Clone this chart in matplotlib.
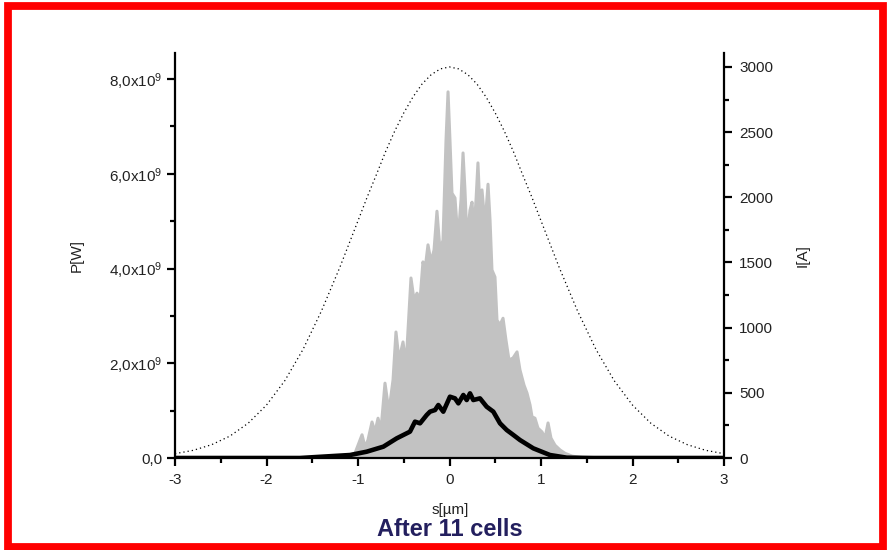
import matplotlib
matplotlib.use("Agg")
import matplotlib.pyplot as plt
from matplotlib.patches import Rectangle
from matplotlib.ticker import MultipleLocator

plt.rcParams['font.family'] = ['Liberation Sans', 'DejaVu Sans']
plt.rcParams['mathtext.fontset'] = 'custom'
plt.rcParams['mathtext.rm'] = 'Liberation Sans'
plt.rcParams['mathtext.it'] = 'Liberation Sans:italic'

# ---------------- data ----------------
# current profile I[A] (dotted, right axis)
s_cur = [-3.0, -2.8, -2.6, -2.4, -2.2, -2.0, -1.8, -1.6, -1.4, -1.2, -1.0, -0.9, -0.8, -0.7,
         -0.6, -0.5, -0.4, -0.3, -0.2, -0.1, 0.0, 0.1, 0.2, 0.3, 0.4, 0.5, 0.6, 0.7, 0.8, 0.9,
         1.0, 1.2, 1.4, 1.6, 1.8, 2.0, 2.2, 2.4, 2.6, 2.8, 3.0]
I_cur = [33, 59, 102, 168, 267, 406, 593, 834, 1127, 1460, 1820, 2001, 2172, 2348,
         2506, 2647, 2769, 2869, 2941, 2985, 3000, 2985, 2941, 2869, 2769, 2647, 2506, 2348, 2172, 2001,
         1820, 1460, 1127, 834, 593, 406, 267, 168, 102, 59, 33]

# envelope of the individual power traces (grey, left axis), P in 1e9 W
s_env = [-1.306, -1.142, -1.033, -0.956, -0.923, -0.891, -0.847, -0.814, -0.781, -0.749,
         -0.705, -0.672, -0.650, -0.617, -0.585, -0.552, -0.508, -0.475, -0.421, -0.388,
         -0.355, -0.322, -0.290, -0.268, -0.235, -0.202, -0.169, -0.137, -0.104, -0.071,
         -0.038, -0.016, 0.005, 0.027, 0.060, 0.093, 0.126, 0.148, 0.169, 0.191,
         0.224, 0.246, 0.268, 0.290, 0.311, 0.333, 0.355, 0.388, 0.421, 0.443,
         0.464, 0.497, 0.519, 0.552, 0.585, 0.617, 0.650, 0.694, 0.738, 0.770,
         0.814, 0.847, 0.880, 0.902, 0.934, 0.967, 1.011, 1.044, 1.077, 1.109,
         1.153, 1.208, 1.262, 1.339, 1.481]
P_env = [0.0, 0.02, 0.10, 0.49, 0.23, 0.38, 0.76, 0.55, 0.84, 0.59,
         1.58, 1.12, 1.16, 1.65, 2.66, 2.07, 2.45, 1.96, 3.80, 3.34,
         3.48, 3.34, 4.14, 3.97, 4.50, 4.14, 4.39, 5.21, 4.39, 4.60,
         6.71, 7.73, 6.71, 5.59, 5.49, 4.60, 5.45, 6.44, 5.66, 4.60,
         5.23, 5.40, 4.81, 5.45, 6.23, 5.23, 5.66, 4.92, 5.78, 5.02,
         3.97, 3.82, 2.91, 2.81, 2.95, 2.49, 2.07, 2.11, 2.24, 1.86,
         1.54, 1.37, 1.12, 0.87, 0.84, 0.63, 0.55, 0.42, 0.74, 0.42,
         0.27, 0.17, 0.10, 0.04, 0.0]

# average power (black, left axis), P in 1e9 W
s_avg = [-3.0, -1.634, -1.087, -0.905, -0.723, -0.577, -0.468, -0.432, -0.377, -0.322,
         -0.249, -0.213, -0.158, -0.122, -0.068, 0.005, 0.060, 0.097, 0.151, 0.188,
         0.224, 0.260, 0.333, 0.406, 0.479, 0.552, 0.625, 0.698, 0.770, 0.916,
         1.098, 1.281, 1.572, 3.0]
P_avg = [0.0, 0.0, 0.063, 0.133, 0.239, 0.415, 0.521, 0.556, 0.767, 0.732,
         0.908, 0.978, 1.013, 1.119, 0.978, 1.294, 1.259, 1.154, 1.330, 1.224,
         1.365, 1.224, 1.259, 1.083, 0.978, 0.732, 0.591, 0.486, 0.380, 0.204,
         0.063, 0.007, 0.0, 0.0]

p_ticks = [0, 2e9, 4e9, 6e9, 8e9]
p_labels = ['0,0', r'2,0x10$^{9}$', r'4,0x10$^{9}$', r'6,0x10$^{9}$', r'8,0x10$^{9}$']
i_ticks = [0, 500, 1000, 1500, 2000, 2500, 3000]
s_ticks = [-3, -2, -1, 0, 1, 2, 3]

# ---------------- figure ----------------
fig = plt.figure(figsize=(8.88, 5.5), dpi=100)
ax = fig.add_axes([175/888, 1 - 458/550, (724 - 175)/888, (458 - 53)/550])
ax2 = ax.twinx()

grey = '#c2c2c2'
P_env_w = [p * 1e9 for p in P_env]
ax.fill_between(s_env, 0, P_env_w, color=grey, lw=0, zorder=1)
ax.plot(s_env, P_env_w, color=grey, lw=2.2, zorder=1.5, solid_joinstyle='round')
ax.plot(s_avg, [p * 1e9 for p in P_avg], color='black', lw=3.3, zorder=3,
        solid_joinstyle='round')

ax2.plot(s_cur, I_cur, color='black', lw=0.9, linestyle=(0, (1, 2.4)))

ax.set_xlim(-3, 3)
ax.set_ylim(0, 8.55e9)
ax2.set_ylim(0, 3107)

for a in (ax, ax2):
    a.spines['top'].set_visible(False)
    for sp in a.spines.values():
        sp.set_linewidth(1.6)
    a.tick_params(which='major', direction='out', length=6, width=1.6, labelsize=11,
                  colors='black', labelcolor='#222222')
    a.tick_params(which='minor', direction='out', length=3.5, width=1.6)
ax.spines['right'].set_visible(False)
ax2.spines['left'].set_visible(False)
ax2.spines['bottom'].set_visible(False)

ax.set_xticks(s_ticks)
ax.set_xticklabels([str(v) for v in s_ticks])
ax.xaxis.set_minor_locator(MultipleLocator(0.5))
ax.set_yticks(p_ticks)
ax.set_yticklabels(p_labels)
ax.yaxis.set_minor_locator(MultipleLocator(1e9))
ax2.set_yticks(i_ticks)
ax2.set_yticklabels([str(v) for v in i_ticks])
ax2.yaxis.set_minor_locator(MultipleLocator(250))
ax.tick_params(axis='x', pad=5)
ax.tick_params(axis='y', pad=3)
ax2.tick_params(axis='y', pad=5)

ax.set_ylabel('P[W]', fontsize=11, labelpad=18, color='#222222')
ax2.set_ylabel('I[A]', fontsize=11, labelpad=16, color='#222222')
fig.text(450/888, 1 - 510/550, 's[µm]', ha='center', va='center', fontsize=11, color='#222222')
fig.text(450/888, 1 - 529/550, 'After 11 cells', ha='center', va='center', fontsize=17,
         fontweight='bold', color='#231f5e')

fig.add_artist(Rectangle((8/888, 3.5/550), (883 - 8)/888, (544 - 3.5)/550,
                         transform=fig.transFigure, fill=False, ec='#ff0000', lw=5.6))

fig.savefig('out.png', dpi=100)
